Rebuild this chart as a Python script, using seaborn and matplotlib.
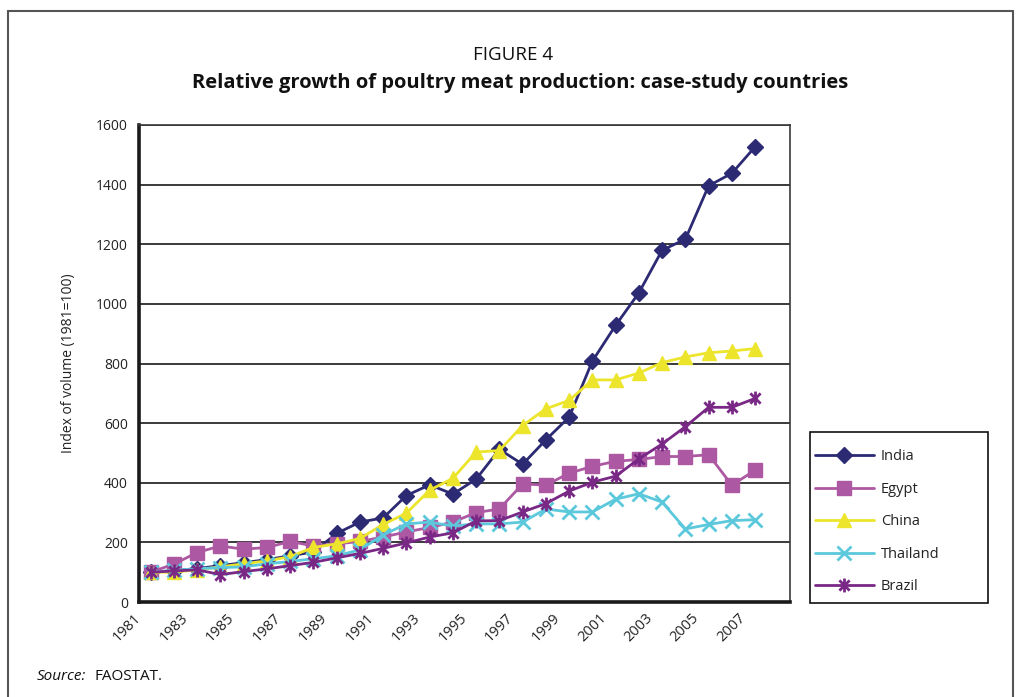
import numpy as np
import pandas as pd
import matplotlib
matplotlib.use("Agg")
import matplotlib.pyplot as plt
from matplotlib.path import Path
from matplotlib.lines import Line2D
from matplotlib.patches import Rectangle
import seaborn as sns

# Index of poultry meat volume (1981 = 100), 1981-2008 (2008 not yet reported)
years = list(range(1981, 2009))
india = [100, 105, 112, 122, 132, 142, 155, 168, 230, 268, 282, 357, 393, 362,
         412, 512, 462, 544, 620, 808, 928, 1037, 1180, 1217, 1396, 1438, 1527, np.nan]
egypt = [100, 127, 166, 188, 177, 183, 203, 188, 195, 203, 218, 235, 250, 268,
         300, 312, 396, 392, 432, 455, 472, 478, 488, 488, 494, 392, 442, np.nan]
china = [100, 100, 108, 118, 128, 138, 152, 183, 195, 213, 260, 298, 375, 415,
         503, 508, 592, 648, 676, 745, 745, 768, 803, 822, 836, 842, 850, np.nan]
thailand = [100, 106, 112, 115, 118, 128, 136, 145, 155, 175, 225, 262, 268, 255,
            262, 262, 268, 312, 302, 302, 345, 363, 335, 245, 260, 273, 276, np.nan]
brazil = [100, 104, 108, 92, 102, 111, 122, 133, 148, 163, 180, 198, 218, 232,
          272, 273, 302, 330, 372, 402, 422, 480, 530, 588, 653, 653, 683, np.nan]

countries = ["India", "Egypt", "China", "Thailand", "Brazil"]
series = [india, egypt, china, thailand, brazil]
colors = ["#2d2a74", "#ad58a2", "#ece52c", "#5cc8db", "#7a2886"]
y_ticks = list(range(0, 1601, 200))

# Excel-style asterisk: an "x" crossed by a vertical bar
asterisk = Path(
    [(-1, -1), (1, 1), (-1, 1), (1, -1), (0, -1.35), (0, 1.35)],
    [Path.MOVETO, Path.LINETO, Path.MOVETO, Path.LINETO, Path.MOVETO, Path.LINETO],
)
markers = ["D", "s", "^", "x", asterisk]
msizes = [8, 10, 10.5, 9.5, 10]
mews = [1, 1, 1, 2, 2]

df = pd.DataFrame({
    "year": np.tile(years, len(countries)),
    "pos": np.tile(np.arange(len(years)), len(countries)),
    "country": np.repeat(countries, len(years)),
    "value": np.concatenate([np.asarray(s, dtype=float) for s in series]),
})

sns.set_style("white")
plt.rcParams["font.family"] = ["Open Sans", "DejaVu Sans"]

W, H = 1017, 697
fig = plt.figure(figsize=(W / 100, H / 100), dpi=100)
ax = fig.add_axes([139 / W, 1 - 602 / H, (790 - 139) / W, (602 - 125) / H])

# horizontal gridlines
for v in y_ticks[1:]:
    ax.axhline(v, color="#3a3a3a", lw=1.4, zorder=0)

handles = []
for name, col, mk, ms, mw in zip(countries, colors, markers, msizes, mews):
    sub = df[df["country"] == name].dropna()
    sns.lineplot(data=sub, x="pos", y="value", ax=ax, color=col, lw=2,
                 marker=mk, markersize=ms, markeredgecolor=col,
                 markeredgewidth=mw, label=name, legend=False, zorder=3)
    handles.append(Line2D([], [], color=col, lw=2, marker=mk, markersize=ms,
                          markeredgecolor=col, markeredgewidth=mw))

ax.set_xlim(-0.5, len(years) - 0.5)
ax.set_ylim(0, 1600)

# category ticks sit between years; labels every other year
bounds = np.arange(-0.5, len(years), 1.0)
labels = [str(1981 + k) if (k % 2 == 0 and 1981 + k <= 2007) else "" for k in range(len(bounds))]
ax.set_xticks(bounds)
ax.set_xticklabels(labels, rotation=45, ha="right", va="center",
                   rotation_mode="anchor", fontsize=10.5, color="#222222")
ax.tick_params(axis="x", direction="out", length=6, width=1, color="#555555", pad=4)
ax.set_yticks(y_ticks)
ax.set_yticklabels([str(v) for v in y_ticks], fontsize=10, color="#222222")
ax.tick_params(axis="y", direction="out", length=5, width=1, color="#555555", pad=3)
ax.set_xlabel("")
ax.set_ylabel("Index of volume (1981=100)", fontsize=10, color="#222222", labelpad=14)

for side in ["left", "bottom"]:
    ax.spines[side].set_color("#1a1a1a")
    ax.spines[side].set_linewidth(2.6)
for side in ["top", "right"]:
    ax.spines[side].set_color("#3a3a3a")
    ax.spines[side].set_linewidth(1.2)

# legend in a plain square box
fig.patches.append(Rectangle((810 / W, 1 - 603 / H), 178 / W, 171 / H,
                             transform=fig.transFigure, fill=True, facecolor="white",
                             edgecolor="#111111", lw=1.2))
leg = fig.legend(handles, countries, loc="upper left",
                 bbox_to_anchor=(805 / W, 1 - 439 / H), frameon=False,
                 handlelength=4.0, handletextpad=0.5, labelspacing=1.2,
                 fontsize=10.5, borderpad=0.2)
for t in leg.get_texts():
    t.set_color("#222222")

# titles and source note
fig.text(513 / W, 1 - 55 / H, "FIGURE 4", ha="center", va="center",
         fontsize=13.5, color="#111111")
fig.text(520 / W, 1 - 83 / H,
         "Relative growth of poultry meat production: case-study countries",
         ha="center", va="center", fontsize=14.5, fontweight="bold", color="#111111")
fig.text(37 / W, 1 - 676 / H, "Source:", ha="left", va="center",
         fontsize=11, style="italic", color="#111111")
fig.text(94 / W, 1 - 676 / H, "FAOSTAT.", ha="left", va="center",
         fontsize=11, color="#111111")

# outer frame
for (x0, y0, x1, y1) in [(8, 11, 1013, 11), (8, 11, 8, H), (1013, 11, 1013, H)]:
    fig.add_artist(Line2D([x0 / W, x1 / W], [1 - y0 / H, 1 - y1 / H],
                          transform=fig.transFigure, color="#555555", lw=1.5))

fig.savefig("out.png", dpi=100, facecolor="white")
